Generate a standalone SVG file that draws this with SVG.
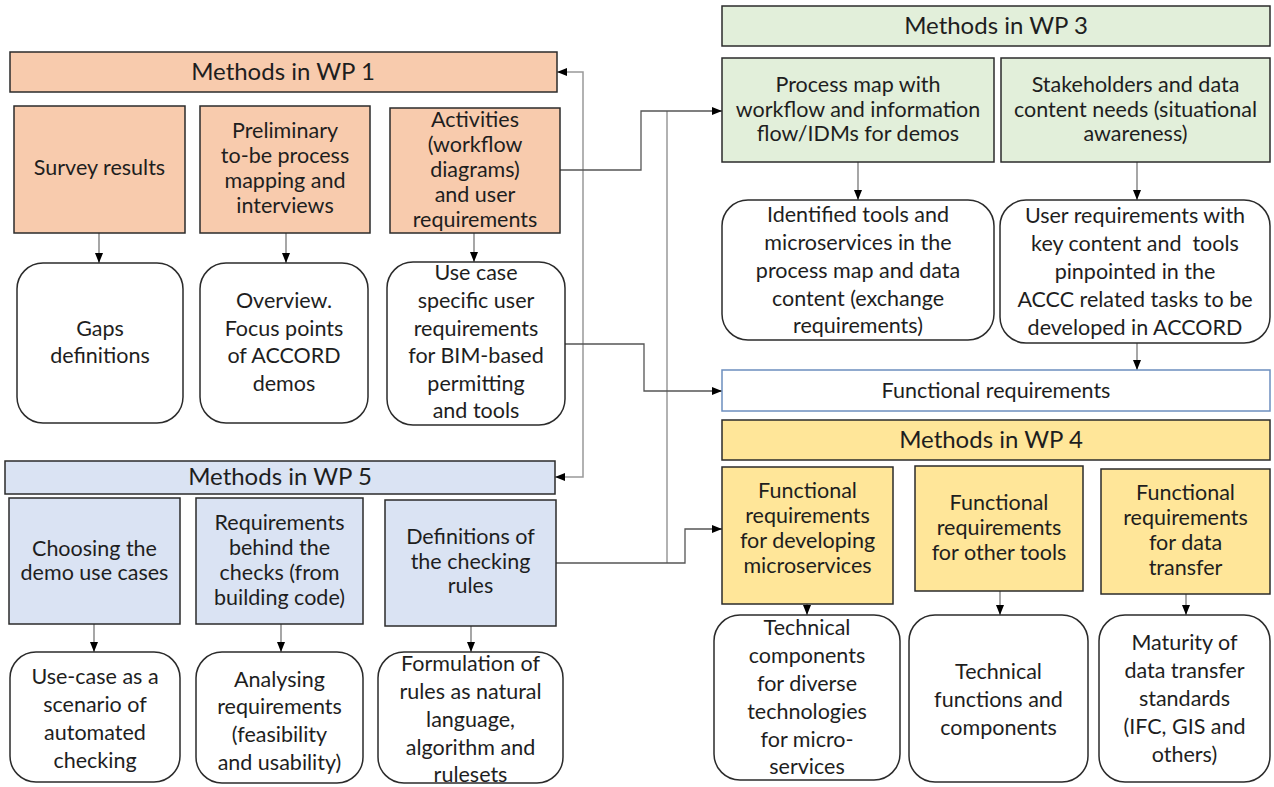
<svg xmlns="http://www.w3.org/2000/svg" width="1274" height="787" viewBox="0 0 1274 787">
  <defs>
    <marker id="arrow" markerUnits="userSpaceOnUse" markerWidth="10" markerHeight="10" viewBox="0 0 10 10" refX="10" refY="5" orient="auto-start-reverse">
      <path d="M0,1 L10,5 L0,9 Z" fill="#000"/>
    </marker>
    <style>
      .box { stroke: #2b2b2b; stroke-width: 1.5; }
      .wp1 { fill: #f8cbad; }
      .wp3 { fill: #e2efda; }
      .wp4 { fill: #ffe699; }
      .wp5 { fill: #dae3f3; }
      .round { fill: #ffffff; stroke: #2b2b2b; stroke-width: 1.5; }
      .func { fill: #ffffff; stroke: #6c8ebf; stroke-width: 1.5; }
      text { font-family: Lato, "Liberation Sans", sans-serif; font-size: 21.5px; fill: #1e1e1e; text-anchor: middle; }
      .hdr { font-size: 24px; }
      .pre { white-space: pre; }
      .down { fill: none; stroke: #777; stroke-width: 1.3; marker-end: url(#arrow); }
      .link { fill: none; stroke: #555; stroke-width: 1.3; }
      .bus { fill: none; stroke: #999; stroke-width: 1.5; }
    </style>
  </defs>
  <rect width="1274" height="787" fill="#ffffff"/>

  <!-- connectors -->
  <g id="connectors">
    <path class="bus" d="M557,72 H583 V477 H555" marker-start="url(#arrow)" marker-end="url(#arrow)"/>
    <path class="bus" d="M667,111 V563"/>
    <path class="link" d="M560,170 H641 V111 H722" marker-end="url(#arrow)"/>
    <path class="link" d="M565,344 H644 V391 H722" marker-end="url(#arrow)"/>
    <path class="link" d="M556,563 H685 V529 H722" marker-end="url(#arrow)"/>
    <path class="down" d="M99,233 V263"/>
    <path class="down" d="M286,233 V263"/>
    <path class="down" d="M474,233 V262"/>
    <path class="down" d="M94,624 V652"/>
    <path class="down" d="M281,624 V652"/>
    <path class="down" d="M471,626 V652"/>
    <path class="down" d="M858,162 V200"/>
    <path class="down" d="M1137,162 V200"/>
    <path class="down" d="M1137,343 V370"/>
    <path class="down" d="M807,604 V615"/>
    <path class="down" d="M1000,591 V615"/>
    <path class="down" d="M1186,594 V615"/>
  </g>

  <!-- WP 1 -->
  <g id="hdr-wp1">
    <rect class="box wp1" x="10" y="52" width="547" height="40"/>
    <text class="hdr" x="283" y="80">Methods in WP 1</text>
  </g>
  <g id="survey-results">
    <rect class="box wp1" x="14" y="106" width="171" height="127"/>
    <text x="99.5" y="175">Survey results</text>
  </g>
  <g id="preliminary-mapping">
    <rect class="box wp1" x="200" y="106" width="170" height="127"/>
    <text x="285" y="138">Preliminary</text>
    <text x="285" y="163">to-be process</text>
    <text x="285" y="188">mapping and</text>
    <text x="285" y="213">interviews</text>
  </g>
  <g id="activities">
    <rect class="box wp1" x="390" y="108" width="170" height="125"/>
    <text x="475" y="127">Activities</text>
    <text x="475" y="152">(workflow</text>
    <text x="475" y="177">diagrams)</text>
    <text x="475" y="202">and user</text>
    <text x="475" y="227">requirements</text>
  </g>
  <g id="gaps-definitions">
    <rect class="round" x="17" y="263" width="166" height="160" rx="26"/>
    <text x="100" y="336">Gaps</text>
    <text x="100" y="363">definitions</text>
  </g>
  <g id="overview">
    <rect class="round" x="200" y="263" width="168" height="160" rx="26"/>
    <text x="284" y="308">Overview.</text>
    <text x="284" y="336">Focus points</text>
    <text x="284" y="363">of ACCORD</text>
    <text x="284" y="391">demos</text>
  </g>
  <g id="use-case-requirements">
    <rect class="round" x="387" y="262" width="178" height="163" rx="26"/>
    <text x="476" y="280">Use case</text>
    <text x="476" y="308">specific user</text>
    <text x="476" y="336">requirements</text>
    <text x="476" y="363">for BIM-based</text>
    <text x="476" y="391">permitting</text>
    <text x="476" y="418">and tools</text>
  </g>

  <!-- WP 5 -->
  <g id="hdr-wp5">
    <rect class="box wp5" x="5" y="461" width="550" height="33"/>
    <text class="hdr" x="280" y="485">Methods in WP 5</text>
  </g>
  <g id="choosing-use-cases">
    <rect class="box wp5" x="9" y="498" width="171" height="126"/>
    <text x="94.5" y="556">Choosing the</text>
    <text x="94.5" y="580">demo use cases</text>
  </g>
  <g id="requirements-behind">
    <rect class="box wp5" x="196" y="498" width="167" height="126"/>
    <text x="279.5" y="530">Requirements</text>
    <text x="279.5" y="555">behind the</text>
    <text x="279.5" y="580">checks (from</text>
    <text x="279.5" y="605">building code)</text>
  </g>
  <g id="checking-rules">
    <rect class="box wp5" x="385" y="500" width="171" height="126"/>
    <text x="470.5" y="544">Definitions of</text>
    <text x="470.5" y="569">the checking</text>
    <text x="470.5" y="593">rules</text>
  </g>
  <g id="use-case-scenario">
    <rect class="round" x="10" y="652" width="170" height="130" rx="26"/>
    <text x="95" y="684">Use-case as a</text>
    <text x="95" y="712">scenario of</text>
    <text x="95" y="740">automated</text>
    <text x="95" y="768">checking</text>
  </g>
  <g id="analysing-requirements">
    <rect class="round" x="196" y="652" width="167" height="131" rx="26"/>
    <text x="279.5" y="687">Analysing</text>
    <text x="279.5" y="714">requirements</text>
    <text x="279.5" y="742">(feasibility</text>
    <text x="279.5" y="770">and usability)</text>
  </g>
  <g id="rule-formulation">
    <rect class="round" x="378" y="652" width="185" height="131" rx="26"/>
    <text x="470.5" y="671">Formulation of</text>
    <text x="470.5" y="699">rules as natural</text>
    <text x="470.5" y="727">language,</text>
    <text x="470.5" y="755">algorithm and</text>
    <text x="470.5" y="782">rulesets</text>
  </g>

  <!-- WP 3 -->
  <g id="hdr-wp3">
    <rect class="box wp3" x="722" y="6" width="548" height="40"/>
    <text class="hdr" x="996" y="34">Methods in WP 3</text>
  </g>
  <g id="process-map">
    <rect class="box wp3" x="722" y="58" width="272" height="104"/>
    <text x="858" y="92">Process map with</text>
    <text x="858" y="117">workflow and information</text>
    <text x="858" y="141">flow/IDMs for demos</text>
  </g>
  <g id="stakeholders">
    <rect class="box wp3" x="1001" y="58" width="269" height="104"/>
    <text x="1135.5" y="92">Stakeholders and data</text>
    <text x="1135.5" y="117">content needs (situational</text>
    <text x="1135.5" y="141">awareness)</text>
  </g>
  <g id="identified-tools">
    <rect class="round" x="722" y="200" width="272" height="140" rx="26"/>
    <text x="858" y="222">Identified tools and</text>
    <text x="858" y="250">microservices in the</text>
    <text x="858" y="278">process map and data</text>
    <text x="858" y="306">content (exchange</text>
    <text x="858" y="333">requirements)</text>
  </g>
  <g id="user-requirements">
    <rect class="round" x="1000" y="200" width="270" height="143" rx="26"/>
    <text x="1135" y="223">User requirements with</text>
    <text class="pre" x="1135" y="251">key content and  tools</text>
    <text x="1135" y="279">pinpointed in the</text>
    <text x="1135" y="307">ACCC related tasks to be</text>
    <text x="1135" y="335">developed in ACCORD</text>
  </g>
  <g id="functional-requirements">
    <rect class="func" x="722" y="370" width="548" height="41"/>
    <text x="996" y="398">Functional requirements</text>
  </g>

  <!-- WP 4 -->
  <g id="hdr-wp4">
    <rect class="box wp4" x="722" y="420" width="548" height="40"/>
    <text class="hdr" x="991" y="448">Methods in WP 4</text>
  </g>
  <g id="fr-microservices">
    <rect class="box wp4" x="722" y="467" width="171" height="137"/>
    <text x="807.5" y="498">Functional</text>
    <text x="807.5" y="523">requirements</text>
    <text x="807.5" y="548">for developing</text>
    <text x="807.5" y="573">microservices</text>
  </g>
  <g id="fr-other-tools">
    <rect class="box wp4" x="915" y="466" width="168" height="125"/>
    <text x="999" y="510">Functional</text>
    <text x="999" y="535">requirements</text>
    <text x="999" y="560">for other tools</text>
  </g>
  <g id="fr-data-transfer">
    <rect class="box wp4" x="1101" y="469" width="169" height="125"/>
    <text x="1185.5" y="500">Functional</text>
    <text x="1185.5" y="525">requirements</text>
    <text x="1185.5" y="550">for data</text>
    <text x="1185.5" y="575">transfer</text>
  </g>
  <g id="technical-components">
    <rect class="round" x="714" y="615" width="186" height="165" rx="26"/>
    <text x="807" y="635">Technical</text>
    <text x="807" y="663">components</text>
    <text x="807" y="691">for diverse</text>
    <text x="807" y="719">technologies</text>
    <text x="807" y="747">for micro-</text>
    <text x="807" y="774">services</text>
  </g>
  <g id="technical-functions">
    <rect class="round" x="909" y="615" width="179" height="167" rx="26"/>
    <text x="998.5" y="679">Technical</text>
    <text x="998.5" y="707">functions and</text>
    <text x="998.5" y="735">components</text>
  </g>
  <g id="transfer-standards">
    <rect class="round" x="1099" y="615" width="171" height="167" rx="26"/>
    <text x="1184.5" y="650">Maturity of</text>
    <text x="1184.5" y="678">data transfer</text>
    <text x="1184.5" y="706">standards</text>
    <text x="1184.5" y="734">(IFC, GIS and</text>
    <text x="1184.5" y="762">others)</text>
  </g>
</svg>
